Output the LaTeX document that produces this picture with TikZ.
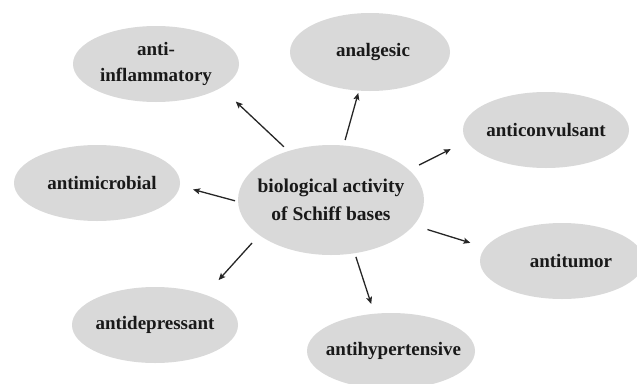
\documentclass[tikz,border=0pt]{standalone}
\usepackage{fontspec}
\setmainfont{Liberation Serif}
\usetikzlibrary{shapes.geometric,arrows.meta}
\begin{document}
\begin{tikzpicture}[x=1pt,y=-1pt,
  bub/.style={ellipse,fill=black!15,draw=none,inner sep=-20pt,outer sep=0pt,
    align=center,text=black!90,font=\fontsize{19}{26}\selectfont\bfseries,
    minimum width=166pt,minimum height=76pt},
  arr/.style={line width=1.3pt,draw=black!85,-{Stealth[length=7pt,width=6pt,inset=1.5pt]}}]
\useasboundingbox (0,0) rectangle (637,383);
\clip (0,0) rectangle (637,383);

\node[bub,minimum width=186pt,minimum height=110pt,font=\fontsize{19.5}{28}\selectfont\bfseries] (c) at (331,200) {biological activity\\of Schiff bases};
\node[bub] (ai) at (156,64) {anti-\\inflammatory};
\node[bub,minimum width=160pt,minimum height=78pt] (an) at (370,52) {\hspace*{6pt}analgesic};
\node[bub] (acv) at (546,130) {anticonvulsant};
\node[bub] (am) at (97,183) {\hspace*{10pt}antimicrobial};
\node[bub] (ad) at (155,325) {antidepressant};
\node[bub,minimum width=164pt] (at) at (562,261) {\hspace*{18pt}antitumor};
\node[bub,minimum width=168pt] (ah) at (391,351) {\hspace*{5pt}antihypertensive};

\draw[arr,shorten <=6.4pt,shorten >=20.3pt] (c.131.7) -- (ai.-20.6);
\draw[arr,shorten <=5.7pt,shorten >=2.5pt] (c.77) -- (an.-106);
\draw[arr,shorten <=11.3pt,shorten >=17.8pt] (c.21.9) -- (acv.-172.9);
\draw[arr,shorten <=3.1pt,shorten >=13.8pt] (c.181) -- (am.-2.4);
\draw[arr,shorten <=10.8pt,shorten >=19.8pt] (c.206) -- (ad.31.5);
\draw[arr,shorten <=14.5pt,shorten >=15.7pt] (c.-17.4) -- (at.170);
\draw[arr,shorten <=3.9pt,shorten >=10.3pt] (c.-66.9) -- (ah.114.2);
\end{tikzpicture}
\end{document}
